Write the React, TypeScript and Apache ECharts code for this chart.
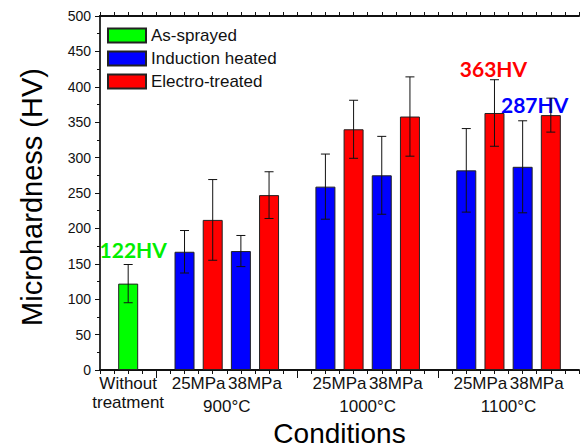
import React, { useEffect, useRef } from "react";
import * as echarts from "echarts";

// ---- data ----
const asSprayedX = [1];
const asSprayedVal = [122];
const asSprayedErr = [27];

const inductionX = [3, 5, 8, 10, 13, 15];
const inductionVal = [167, 168, 259, 275, 282, 287];
const inductionErr = [30, 22, 46, 55, 59, 65];

const electroX = [4, 6, 9, 11, 14, 16];
const electroVal = [212, 247, 340, 358, 363, 360];
const electroErr = [57, 33, 41, 56, 47, 24];

const subLabelPos = [1, 3.5, 5.5, 8.5, 10.5, 13.5, 15.5];
const subLabels = ["Without\ntreatment", "25MPa", "38MPa", "25MPa", "38MPa", "25MPa", "38MPa"];
const groupLabelPos = [4.5, 9.5, 14.5];
const groupLabels = ["900°C", "1000°C", "1100°C"];
const emptySlots = [2, 7, 12];

const FONT = "Liberation Sans, Arial, sans-serif";
const AXIS_COLOR = "#111";

export default function App() {
  const ref = useRef<HTMLDivElement>(null);

  useEffect(() => {
    if (!ref.current) return;
    const chart = echarts.init(ref.current, null, { renderer: "svg" });

    const annot = (text: string, color: string, distance: number, dx: number) => ({
      show: true,
      position: "top",
      distance,
      offset: [dx, 0],
      formatter: text,
      color,
      fontFamily: "Lato, sans-serif",
      fontWeight: "bold",
      fontSize: 21,
    });

    const greenData = asSprayedX.map((x, i) => ({
      value: [x, asSprayedVal[i]],
      label: i === 0 ? annot(asSprayedVal[i] + "HV", "#00ee00", 24, 5) : undefined,
    }));
    const blueData = inductionX.map((x, i) => ({
      value: [x, inductionVal[i]],
      label: i === 5 ? annot(inductionVal[i] + "HV", "#0000ff", 52, 12) : undefined,
    }));
    const redData = electroX.map((x, i) => ({
      value: [x, electroVal[i]],
      label: i === 4 ? annot(electroVal[i] + "HV", "#ff0000", 34, -1) : undefined,
    }));

    const errData: number[][] = [];
    const pushErr = (xs: number[], vs: number[], es: number[]) =>
      xs.forEach((x, i) => errData.push([x, vs[i] - es[i], vs[i] + es[i]]));
    pushErr(asSprayedX, asSprayedVal, asSprayedErr);
    pushErr(inductionX, inductionVal, inductionErr);
    pushErr(electroX, electroVal, electroErr);

    const barCommon = {
      type: "bar",
      barWidth: 20,
      barGap: "-100%",
      xAxisIndex: 0,
      yAxisIndex: 0,
    };

    const labelMap: Record<string, string> = {};
    subLabelPos.forEach((p, i) => (labelMap[String(p)] = subLabels[i]));
    const groupMap: Record<string, string> = {};
    groupLabelPos.forEach((p, i) => (groupMap[String(p)] = groupLabels[i]));

    chart.setOption({
      animation: false,
      textStyle: { fontFamily: FONT },
      grid: {
        left: 100,
        top: 16,
        right: 2,
        bottom: 78,
        containLabel: false,
        outerBoundsMode: "none",
      },
      legend: {
        data: ["As-sprayed", "Induction heated", "Electro-treated"],
        orient: "vertical",
        left: 102,
        top: 22,
        itemWidth: 38,
        itemHeight: 14,
        itemGap: 6,
        icon: "rect",
        textStyle: { fontSize: 17, color: "#111", fontFamily: FONT },
      },
      xAxis: [
        {
          type: "value",
          position: "bottom",
          min: 0,
          max: 17,
          interval: 0.5,
          splitLine: { show: false },
          axisLine: { show: true, lineStyle: { color: AXIS_COLOR, width: 2 } },
          axisTick: { show: true, length: 4, lineStyle: { color: AXIS_COLOR, width: 1 } },
          axisLabel: {
            customValues: subLabelPos,
            formatter: (v: number) => labelMap[String(v)] ?? "",
            fontSize: 17,
            lineHeight: 19,
            color: "#111",
            margin: 4,
            fontFamily: FONT,
          },
        },
        {
          type: "value",
          position: "bottom",
          min: 0,
          max: 17,
          splitLine: { show: false },
          axisLine: { show: false },
          axisTick: {
            show: true,
            customValues: emptySlots,
            length: 8,
            lineStyle: { color: AXIS_COLOR, width: 1 },
          },
          axisLabel: {
            customValues: groupLabelPos,
            formatter: (v: number) => groupMap[String(v)] ?? "",
            fontSize: 17,
            color: "#111",
            margin: 28,
            fontFamily: FONT,
          },
          name: "Conditions",
          nameLocation: "middle",
          nameGap: 43,
          nameTextStyle: { fontSize: 28, lineHeight: 28, color: "#000", fontFamily: FONT },
        },
        {
          type: "value",
          position: "top",
          min: 0,
          max: 17,
          interval: 0.5,
          splitLine: { show: false },
          axisLine: { show: true, lineStyle: { color: AXIS_COLOR, width: 2 } },
          axisTick: { show: true, length: 4, lineStyle: { color: AXIS_COLOR, width: 1 } },
          axisLabel: { show: false },
        },
      ],
      yAxis: [
        {
          type: "value",
          position: "left",
          min: 0,
          max: 500,
          interval: 50,
          splitLine: { show: false },
          axisLine: { show: true, lineStyle: { color: AXIS_COLOR, width: 2 } },
          axisTick: { show: true, length: 5, lineStyle: { color: AXIS_COLOR, width: 1 } },
          minorTick: { show: true, splitNumber: 2, length: 3, lineStyle: { color: AXIS_COLOR, width: 1 } },
          axisLabel: { fontSize: 14, color: "#111", margin: 9, fontFamily: FONT },
          name: "Microhardness (HV)",
          nameLocation: "middle",
          nameGap: 54,
          nameTextStyle: { fontSize: 29, color: "#000", fontFamily: FONT, padding: [0, 8, 0, 0] },
        },
        {
          type: "value",
          position: "right",
          min: 0,
          max: 500,
          interval: 25,
          splitLine: { show: false },
          axisLine: { show: true, lineStyle: { color: "#333", width: 2 } },
          axisTick: { show: true, inside: true, length: 3, lineStyle: { color: AXIS_COLOR, width: 1 } },
          axisLabel: { show: false },
        },
      ],
      series: [
        {
          ...barCommon,
          name: "As-sprayed",
          data: greenData,
          itemStyle: { color: "#00ff00", borderColor: "#222", borderWidth: 1 },
        },
        {
          ...barCommon,
          name: "Induction heated",
          data: blueData,
          itemStyle: { color: "#0000ff", borderColor: "#222", borderWidth: 1 },
        },
        {
          ...barCommon,
          name: "Electro-treated",
          data: redData,
          itemStyle: { color: "#ff0000", borderColor: "#222", borderWidth: 1 },
        },
        {
          type: "custom",
          name: "error",
          xAxisIndex: 0,
          yAxisIndex: 0,
          z: 5,
          encode: { x: 0, y: [1, 2] },
          data: errData,
          renderItem: (params: any, api: any) => {
            const x = api.value(0);
            const lo = api.value(1);
            const hi = api.value(2);
            const top = api.coord([x, hi]);
            const bot = api.coord([x, lo]);
            const w = 4.5;
            const st = { stroke: "#111", lineWidth: 1 };
            return {
              type: "group",
              children: [
                { type: "line", shape: { x1: top[0], y1: top[1], x2: bot[0], y2: bot[1] }, style: st },
                { type: "line", shape: { x1: top[0] - w, y1: top[1], x2: top[0] + w, y2: top[1] }, style: st },
                { type: "line", shape: { x1: bot[0] - w, y1: bot[1], x2: bot[0] + w, y2: bot[1] }, style: st },
              ],
            };
          },
        },
      ],
    });

    return () => chart.dispose();
  }, []);

  return (
    <div
      ref={ref}
      style={{ position: "fixed", left: 0, top: 0, width: 581, height: 448, background: "#fff" }}
    />
  );
}
